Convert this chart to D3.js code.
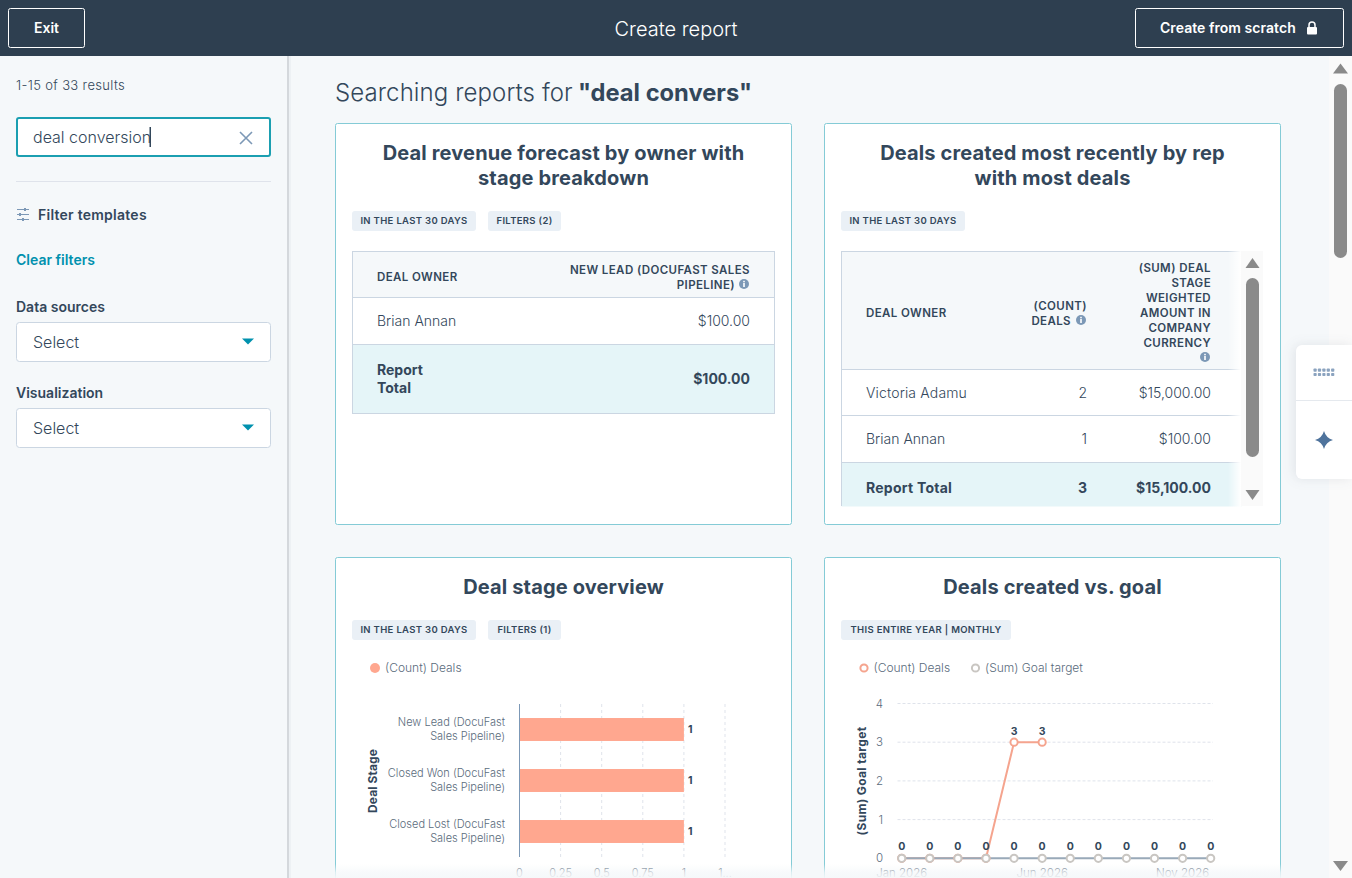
<!DOCTYPE html>
<html>
  <head>
    <meta charset="utf-8">
    <title>Create report</title>
    <script src="https://d3js.org/d3.v7.min.js"></script>
    <style>
      html, body { margin: 0; padding: 0; overflow: hidden; background: #f5f8fa; }
      svg { display: block; font-family: Inter, "Open Sans", sans-serif; }
    </style>
  </head>
  <body>
    <div id="page"></div>
    <script>
      // chart data
      var stageLabels = [
        ['New Lead (DocuFast', 'Sales Pipeline)'],
        ['Closed Won (DocuFast', 'Sales Pipeline)'],
        ['Closed Lost (DocuFast', 'Sales Pipeline)']
      ];
      var stageDeals = [1, 1, 1];
      var stageTicks = [0, 0.25, 0.5, 0.75, 1, 1.25];
      var stageTickLabels = ['0', '0.25', '0.5', '0.75', '1', '1...'];

      var months = ['Jan 2026', 'Feb 2026', 'Mar 2026', 'Apr 2026', 'May 2026', 'Jun 2026',
                    'Jul 2026', 'Aug 2026', 'Sep 2026', 'Oct 2026', 'Nov 2026', 'Dec 2026'];
      var monthLabels = ['Jan 2026', 'Jun 2026', 'Nov 2026'];
      var countDeals = [0, 0, 0, 0, 3, 3];
      var goalTarget = [0, 0, 0, 0, 0, 0, 0, 0, 0, 0, 0, 0];
      var goalTicks = [0, 1, 2, 3, 4];

      var ink = '#33475b', soft = '#5a6b7c', line = '#cbd6e2', teal = '#00a4bd';
      var salmon = '#ffa78f', salmonLine = '#f5a48e', goalGrey = '#c9c6c2';

      var svg = d3.select('#page').append('svg').attr('width', 1352).attr('height', 878);
      var defs = svg.append('defs');

      function txt(g, x, y, s, size, weight, fill, anchor) {
        return g.append('text').attr('x', x).attr('y', y).attr('dy', '.35em')
          .attr('font-size', size).attr('font-weight', weight || 400)
          .attr('fill', fill || ink).attr('text-anchor', anchor || 'start').text(s);
      }
      function th(g, x, y, s, anchor) {
        return txt(g, x, y, s, 11.5, 600, ink, anchor).attr('letter-spacing', 0.4);
      }
      function box(g, x, y, w, h, fill, stroke, r) {
        return g.append('rect').attr('x', x).attr('y', y).attr('width', w).attr('height', h)
          .attr('fill', fill).attr('stroke', stroke || 'none').attr('rx', r || 0);
      }
      function hline(g, x1, x2, y, c) {
        g.append('line').attr('x1', x1).attr('x2', x2).attr('y1', y).attr('y2', y).attr('stroke', c || line);
      }
      function infoIcon(g, x, y) {
        g.append('circle').attr('cx', x).attr('cy', y).attr('r', 5).attr('fill', '#7c98b6');
        g.append('rect').attr('x', x - 0.8).attr('y', y - 1).attr('width', 1.6).attr('height', 4).attr('fill', '#fff');
        g.append('rect').attr('x', x - 0.8).attr('y', y - 3.2).attr('width', 1.6).attr('height', 1.5).attr('fill', '#fff');
      }
      function tag(g, x, w, y, s) {
        box(g, x, y, w, 20, '#eaf0f6', null, 3);
        txt(g, x + w / 2, y + 10, s, 9.5, 600, ink, 'middle').attr('letter-spacing', 0.32);
      }
      function tri(g, cx, cy, w, h, c, down) {
        var d = down ? 1 : -1;
        g.append('path').attr('fill', c)
          .attr('d', 'M' + (cx - w / 2) + ',' + (cy - d * h / 2) + 'L' + (cx + w / 2) + ',' + (cy - d * h / 2) + 'L' + cx + ',' + (cy + d * h / 2) + 'Z');
      }
      function cardTitle(g, x, y, s) {
        return txt(g, x, y, s, 20, 700, ink, 'middle').attr('letter-spacing', 0.15);
      }

      // page background, sidebar
      box(svg, 0, 0, 1352, 878, '#f5f8fa');
      box(svg, 287, 56, 2, 822, '#d4d8dc');
      box(svg, 289, 56, 2, 822, '#edf1f4');

      // top bar
      box(svg, 0, 0, 1352, 56, '#2e3f50');
      box(svg, 8.5, 8.5, 76, 39, 'none', '#ffffff', 2);
      txt(svg, 46.5, 28, 'Exit', 14, 600, '#fff', 'middle');
      txt(svg, 676, 29, 'Create report', 20, 300, '#fff', 'middle');
      box(svg, 1135.5, 8.5, 208, 39, 'none', '#ffffff', 2);
      txt(svg, 1160, 28, 'Create from scratch', 14, 600, '#fff').attr('letter-spacing', 0.05);
      box(svg, 1307, 27, 10, 7.5, '#fff', null, 1);
      svg.append('path').attr('d', 'M1309,27.5V25a3,3 0 0 1 6,0V27.5').attr('fill', 'none').attr('stroke', '#fff').attr('stroke-width', 1.5);

      // sidebar
      txt(svg, 16, 85, '1-15 of 33 results', 13, 300, ink).attr('letter-spacing', 0.35);
      box(svg, 17, 118, 253, 38, '#fff', '#1b9fb1', 2).attr('stroke-width', 2);
      txt(svg, 33, 137, 'deal conversion', 16, 300, ink);
      box(svg, 149.5, 127, 1.5, 20, ink);
      svg.append('path').attr('d', 'M240,132L252,144M252,132L240,144').attr('stroke', '#7c98b6').attr('stroke-width', 1.6);
      hline(svg, 16, 271, 181.5, '#dfe3eb');
      [209, 214, 219].forEach(function (y, i) {
        hline(svg, 17, 29, y + 0.5, '#7c98b6');
        box(svg, [24, 19, 22][i], y - 1, 2, 3, '#7c98b6');
      });
      txt(svg, 38, 215, 'Filter templates', 14, 600, ink).attr('letter-spacing', 0.25);
      txt(svg, 16, 260, 'Clear filters', 14, 600, '#0091ae');
      txt(svg, 16, 307, 'Data sources', 14, 600, ink);
      box(svg, 16.5, 322.5, 254, 39, '#fff', line, 3);
      txt(svg, 33, 342, 'Select', 16, 300, ink);
      tri(svg, 248, 341.5, 12, 6, '#0091ae', true);
      txt(svg, 16, 393, 'Visualization', 14, 600, ink);
      box(svg, 16.5, 408.5, 254, 39, '#fff', line, 3);
      txt(svg, 33, 428, 'Select', 16, 300, ink);
      tri(svg, 248, 427.5, 12, 6, '#0091ae', true);

      // heading
      var head = txt(svg, 335, 93, 'Searching reports for', 24, 300, ink).attr('letter-spacing', 0.1);
      txt(svg, 578, 93, '"deal convers"', 23.7, 700, ink);

      // cards
      var cardBorder = '#84cbd6';
      box(svg, 335.5, 123.5, 456, 401, '#fff', cardBorder, 2);
      box(svg, 824.5, 123.5, 456, 401, '#fff', cardBorder, 2);
      box(svg, 335.5, 557.5, 456, 340, '#fff', cardBorder, 2);
      box(svg, 824.5, 557.5, 456, 340, '#fff', cardBorder, 2);

      // card 1: forecast table
      cardTitle(svg, 563.5, 153, 'Deal revenue forecast by owner with');
      cardTitle(svg, 563.5, 178, 'stage breakdown');
      tag(svg, 352, 124, 211, 'IN THE LAST 30 DAYS');
      tag(svg, 488, 73, 211, 'FILTERS (2)');
      box(svg, 352.5, 251.5, 422, 46, '#f5f8fa');
      box(svg, 352.5, 344.5, 422, 69, '#e5f5f8');
      box(svg, 352.5, 251.5, 422, 162, 'none', line);
      hline(svg, 352.5, 774.5, 297.5);
      hline(svg, 352.5, 774.5, 344.5);
      th(svg, 377, 277, 'DEAL OWNER');
      th(svg, 750, 270, 'NEW LEAD (DOCUFAST SALES', 'end');
      th(svg, 735, 285, 'PIPELINE)', 'end');
      infoIcon(svg, 744, 284);
      txt(svg, 377, 321, 'Brian Annan', 14, 300, ink);
      txt(svg, 750, 321, '$100.00', 14, 300, ink, 'end');
      txt(svg, 377, 370, 'Report', 14, 700, ink);
      txt(svg, 377, 388, 'Total', 14, 700, ink);
      txt(svg, 750, 379, '$100.00', 14, 700, ink, 'end');

      // card 2: recent deals table
      cardTitle(svg, 1052.5, 153, 'Deals created most recently by rep');
      cardTitle(svg, 1052.5, 178, 'with most deals');
      tag(svg, 841, 124, 211, 'IN THE LAST 30 DAYS');
      box(svg, 841.5, 251.5, 400, 118, '#f5f8fa');
      box(svg, 841.5, 462.5, 400, 44, '#e5f5f8');
      hline(svg, 841.5, 1241, 251.5);
      hline(svg, 841.5, 1241, 369.5);
      hline(svg, 841.5, 1241, 415.5);
      hline(svg, 841.5, 1241, 462.5);
      svg.append('line').attr('x1', 841.5).attr('x2', 841.5).attr('y1', 251).attr('y2', 506).attr('stroke', line);
      th(svg, 866, 313, 'DEAL OWNER');
      th(svg, 1087, 306, '(COUNT)', 'end');
      th(svg, 1071, 321, 'DEALS', 'end');
      infoIcon(svg, 1081, 320);
      ['(SUM) DEAL', 'STAGE', 'WEIGHTED', 'AMOUNT IN', 'COMPANY', 'CURRENCY'].forEach(function (s, i) {
        th(svg, 1211, 268 + i * 15, s, 'end');
      });
      infoIcon(svg, 1205, 357);
      txt(svg, 866, 393, 'Victoria Adamu', 14, 300, ink).attr('letter-spacing', 0.15);
      txt(svg, 1087, 393, '2', 14, 300, ink, 'end');
      txt(svg, 1211, 393, '$15,000.00', 14, 300, ink, 'end');
      txt(svg, 866, 439, 'Brian Annan', 14, 300, ink);
      txt(svg, 1087, 439, '1', 14, 300, ink, 'end');
      txt(svg, 1211, 439, '$100.00', 14, 300, ink, 'end');
      txt(svg, 866, 488, 'Report Total', 14, 700, ink).attr('letter-spacing', 0.25);
      txt(svg, 1087, 488, '3', 14, 700, ink, 'end');
      txt(svg, 1211, 488, '$15,100.00', 14, 700, ink, 'end');
      // table fades out under the inner scrollbar
      var tfade = defs.append('linearGradient').attr('id', 'tfade');
      tfade.append('stop').attr('offset', 0).attr('stop-color', '#fff').attr('stop-opacity', 0);
      tfade.append('stop').attr('offset', 1).attr('stop-color', '#fff').attr('stop-opacity', 1);
      box(svg, 1228, 251, 13, 256, 'url(#tfade)');
      // inner scrollbar
      box(svg, 1241, 251, 22, 255, '#fafafa');
      box(svg, 1246, 278, 13, 179, '#8a8a8a', null, 6.5);
      tri(svg, 1252.5, 263, 14, 10, '#8a8a8a', false);
      tri(svg, 1252.5, 495, 14, 10, '#8a8a8a', true);

      // card 3: deal stage bar chart
      cardTitle(svg, 563.5, 587, 'Deal stage overview');
      tag(svg, 352, 124, 620, 'IN THE LAST 30 DAYS');
      tag(svg, 488, 73, 620, 'FILTERS (1)');
      svg.append('circle').attr('cx', 375).attr('cy', 668).attr('r', 5).attr('fill', salmon);
      txt(svg, 385, 668, '(Count) Deals', 12, 300, soft);

      var barX = d3.scaleLinear().domain([0, 1.25]).range([519.5, 725]);
      var barY = d3.scaleBand().domain(d3.range(stageLabels.length)).range([704, 857]).paddingInner(0.55).paddingOuter(0.275);
      var barG = svg.append('g');
      barG.selectAll('line.grid').data(stageTicks.slice(1)).enter().append('line')
        .attr('class', 'grid')
        .attr('x1', barX).attr('x2', barX).attr('y1', 704).attr('y2', 857)
        .attr('stroke', '#dfe3eb').attr('stroke-dasharray', '3,3');
      barG.selectAll('rect').data(stageDeals).enter().append('rect')
        .attr('x', barX(0)).attr('y', function (d, i) { return barY(i); })
        .attr('width', function (d) { return barX(d) - barX(0); })
        .attr('height', barY.bandwidth()).attr('fill', salmon);
      barG.selectAll('text.val').data(stageDeals).enter().append('text')
        .attr('class', 'val')
        .attr('x', function (d) { return barX(d) + 4; })
        .attr('y', function (d, i) { return barY(i) + barY.bandwidth() / 2; })
        .attr('dy', '.35em').attr('font-size', 10.5).attr('font-weight', 700).attr('fill', ink)
        .text(function (d) { return d; });
      barG.append('line').attr('x1', barX(0)).attr('x2', barX(0)).attr('y1', 704).attr('y2', 857).attr('stroke', '#7c98b6');
      stageLabels.forEach(function (lines, i) {
        var cy = barY(i) + barY.bandwidth() / 2;
        txt(barG, 505, cy - 7, lines[0], 11, 300, soft, 'end');
        txt(barG, 505, cy + 7, lines[1], 11, 300, soft, 'end');
      });
      barG.selectAll('text.tick').data(stageTicks).enter().append('text')
        .attr('class', 'tick')
        .attr('x', barX).attr('y', 873).attr('dy', '.35em')
        .attr('text-anchor', 'middle').attr('font-size', 11).attr('font-weight', 300).attr('fill', soft)
        .text(function (d, i) { return stageTickLabels[i]; });
      txt(barG, 0, 0, 'Deal Stage', 12, 700, ink, 'middle')
        .attr('letter-spacing', 0.1)
        .attr('transform', 'translate(373,781) rotate(-90)');

      // card 4: deals vs goal line chart
      cardTitle(svg, 1052.5, 587, 'Deals created vs. goal');
      tag(svg, 841, 170, 620, 'THIS ENTIRE YEAR | MONTHLY');
      svg.append('circle').attr('cx', 864).attr('cy', 668).attr('r', 3.6).attr('fill', '#fff').attr('stroke', salmonLine).attr('stroke-width', 2);
      txt(svg, 873.5, 668, '(Count) Deals', 12, 300, soft);
      svg.append('circle').attr('cx', 975.5).attr('cy', 668).attr('r', 3.6).attr('fill', '#fff').attr('stroke', goalGrey).attr('stroke-width', 2);
      txt(svg, 985, 668, '(Sum) Goal target', 12, 300, soft);

      var lineX = d3.scalePoint().domain(months).range([901.7, 1210.7]);
      var lineY = d3.scaleLinear().domain([0, 4]).range([858.3, 703.5]);
      var lineG = svg.append('g');
      lineG.selectAll('line.grid').data(goalTicks).enter().append('line')
        .attr('class', 'grid')
        .attr('x1', 897.5).attr('x2', 1213).attr('y1', lineY).attr('y2', lineY)
        .attr('stroke', '#dfe3eb').attr('stroke-dasharray', '3,2');
      lineG.selectAll('text.ytick').data(goalTicks).enter().append('text')
        .attr('class', 'ytick')
        .attr('x', 883).attr('y', lineY).attr('dy', '.35em')
        .attr('text-anchor', 'end').attr('font-size', 11.5).attr('font-weight', 300).attr('fill', soft)
        .text(function (d) { return d; });
      var mkLine = d3.line()
        .x(function (d, i) { return lineX(months[i]); })
        .y(function (d) { return lineY(d); });
      lineG.append('path').datum(countDeals).attr('d', mkLine).attr('fill', 'none').attr('stroke', salmonLine).attr('stroke-width', 2);
      lineG.append('path').datum(goalTarget).attr('d', mkLine).attr('fill', 'none').attr('stroke', '#99a9b8').attr('stroke-width', 2);
      lineG.selectAll('circle.count').data(countDeals).enter().append('circle')
        .attr('class', 'count')
        .attr('cx', function (d, i) { return lineX(months[i]); }).attr('cy', lineY).attr('r', 3.6)
        .attr('fill', '#fff').attr('stroke', salmonLine).attr('stroke-width', 2);
      lineG.selectAll('circle.goal').data(goalTarget).enter().append('circle')
        .attr('class', 'goal')
        .attr('cx', function (d, i) { return lineX(months[i]); }).attr('cy', lineY).attr('r', 3.6)
        .attr('fill', '#fff').attr('stroke', goalGrey).attr('stroke-width', 2);
      // value labels: goal row, then the two non zero counts
      lineG.selectAll('text.goalval').data(goalTarget).enter().append('text')
        .attr('class', 'goalval')
        .attr('x', function (d, i) { return lineX(months[i]); })
        .attr('y', function (d) { return lineY(d) - 12; }).attr('dy', '.35em')
        .attr('text-anchor', 'middle').attr('font-size', 10.5).attr('font-weight', 700).attr('fill', ink)
        .text(function (d) { return d; });
      lineG.selectAll('text.countval').data(countDeals.filter(function (d) { return d > 0; })).enter().append('text')
        .attr('class', 'countval')
        .attr('x', function (d, i) { return lineX(months[i + 4]); })
        .attr('y', function (d) { return lineY(d) - 11; }).attr('dy', '.35em')
        .attr('text-anchor', 'middle').attr('font-size', 10.5).attr('font-weight', 700).attr('fill', ink)
        .text(function (d) { return d; });
      lineG.selectAll('text.month').data(monthLabels).enter().append('text')
        .attr('class', 'month')
        .attr('x', function (d) { return lineX(d); }).attr('y', 873).attr('dy', '.35em')
        .attr('text-anchor', 'middle').attr('font-size', 11.5).attr('font-weight', 300).attr('fill', soft)
        .text(function (d) { return d; });
      txt(lineG, 0, 0, '(Sum) Goal target', 12, 700, ink, 'middle')
        .attr('letter-spacing', 0.35)
        .attr('transform', 'translate(862,781) rotate(-90)');

      // fade at the bottom of the page
      var fade = defs.append('linearGradient').attr('id', 'fade').attr('x1', 0).attr('x2', 0).attr('y1', 0).attr('y2', 1);
      fade.append('stop').attr('offset', 0).attr('stop-color', '#f5f8fa').attr('stop-opacity', 0);
      fade.append('stop').attr('offset', 0.6).attr('stop-color', '#f5f8fa').attr('stop-opacity', 0.75);
      fade.append('stop').attr('offset', 1).attr('stop-color', '#f5f8fa').attr('stop-opacity', 0.95);
      box(svg, 291, 864, 1040, 14, 'url(#fade)');

      // page scrollbar
      box(svg, 1329, 56, 23, 822, '#fafafa');
      box(svg, 1334, 84, 13, 174, '#8a8a8a', null, 6.5);
      tri(svg, 1340.5, 68.5, 15, 10, '#8a8a8a', false);
      tri(svg, 1340.5, 866, 15, 10, '#8a8a8a', true);

      // side widget
      svg.append('path').attr('d', 'M1352,345H1302a6,6 0 0 0 -6,6V473a6,6 0 0 0 6,6H1352Z').attr('fill', '#fff')
        .style('filter', 'drop-shadow(-2px 0 6px rgba(45,62,80,.10))');
      hline(svg, 1296, 1352, 400.5, '#e5e9ee');
      d3.range(5).forEach(function (c) {
        d3.range(2).forEach(function (r) {
          box(svg, 1313.5 + c * 4.4, 368.5 + r * 4.4, 3.2, 3.2, '#8ba3bf', null, 0.8);
        });
      });
      svg.append('path').attr('fill', '#4f739c')
        .attr('d', 'M1324,431Q1326,438 1333,440Q1326,442 1324,449Q1322,442 1315,440Q1322,438 1324,431Z');
    </script>
  </body>
</html>
